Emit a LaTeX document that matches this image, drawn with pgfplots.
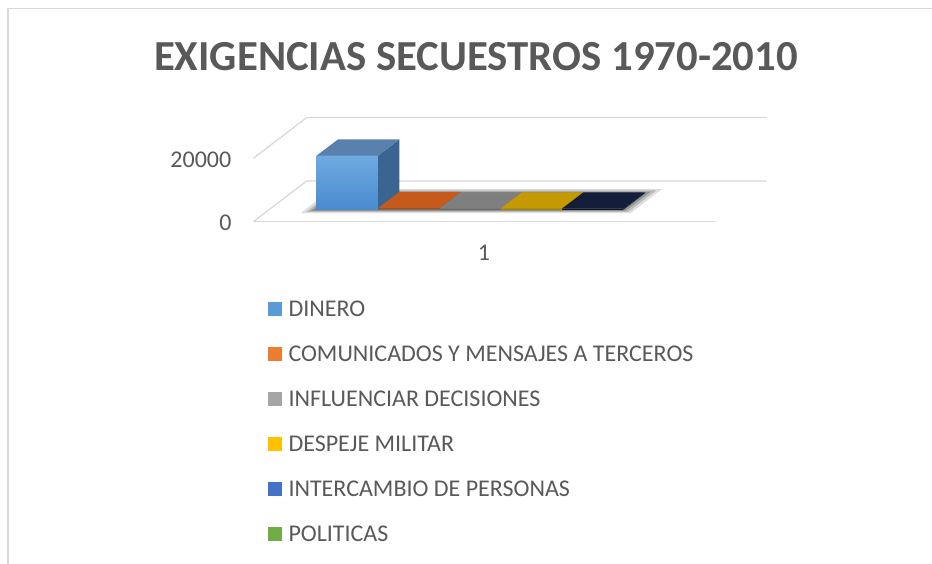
\documentclass[border=0pt]{standalone}
\usepackage{pgfplots}
\pgfplotsset{compat=1.18}
\usepackage{fontspec}
\setmainfont{Carlito}
\definecolor{txt}{HTML}{595959}
\definecolor{gridc}{HTML}{D9D9D9}
% series colours (legend)
\definecolor{cDin}{HTML}{5B9BD5}
\definecolor{cCom}{HTML}{ED7D31}
\definecolor{cInf}{HTML}{A5A5A5}
\definecolor{cDes}{HTML}{FFC000}
\definecolor{cInt}{HTML}{4472C4}
\definecolor{cPol}{HTML}{70AD47}
% shaded faces of the 3-D columns
\definecolor{dinTop}{HTML}{5A80AD}
\definecolor{dinSide}{HTML}{3B6591}
\definecolor{dinF1}{HTML}{6FAAE0}
\definecolor{dinF2}{HTML}{4A8BCF}
\definecolor{comTop}{HTML}{C55A1B}
\definecolor{comSide}{HTML}{A84A15}
\definecolor{infTop}{HTML}{7F7F7F}
\definecolor{infSide}{HTML}{6A6A6A}
\definecolor{desTop}{HTML}{C49A00}
\definecolor{desSide}{HTML}{A88400}
\definecolor{intTop}{HTML}{131F3A}
\definecolor{intSide}{HTML}{0E172C}

% cuboid: x0, x1, value, front style, top colour, side colour
\newcommand\cuboid[6]{%
  \addplot3[draw=none,#4] coordinates {(#1,0.30,0) (#2,0.30,0) (#2,0.30,#3) (#1,0.30,#3)} -- cycle;
  \addplot3[draw=none,fill=#6] coordinates {(#2,0.30,0) (#2,0.70,0) (#2,0.70,#3) (#2,0.30,#3)} -- cycle;
  \addplot3[draw=none,fill=#5] coordinates {(#1,0.30,#3) (#2,0.30,#3) (#2,0.70,#3) (#1,0.70,#3)} -- cycle;
}

\begin{document}
\begin{tikzpicture}[x=1pt,y=1pt]
\useasboundingbox (0,0) rectangle (932,563);
\draw[gridc, line width=1.5pt] (8,-10) -- (8,554.7) -- (945,554.7);

\node[txt, inner sep=0pt, font=\fontsize{42.8}{50}\selectfont\bfseries] at (476,506) {EXIGENCIAS SECUESTROS 1970-2010};

\begin{axis}[
  at={(253.3pt,341.3pt)}, anchor=origin,
  x={(1pt,0pt)}, y={(53.4pt,40.7pt)}, z={(0pt,0.00317pt)},
  xmin=0, xmax=461.7, ymin=0, ymax=1, zmin=0, zmax=20000,
  hide axis, clip=false,
]
% gridlines (walls and floor edge)
\addplot3[gridc, line width=1.3pt] coordinates {(0,0,0) (0,1,0) (460,1,0)};
\addplot3[gridc, line width=1.3pt] coordinates {(0,0,20000) (0,1,20000) (460,1,20000)};
\addplot3[gridc, line width=1.3pt] coordinates {(0,0,0) (461.7,0,0)};

% soft floor shadow under the columns
\addplot3[draw=none, fill=black, opacity=0.13] coordinates {(36,0.21,0) (366,0.21,0) (366,0.80,0) (36,0.80,0)} -- cycle;
\addplot3[draw=none, fill=black, opacity=0.16] coordinates {(40,0.24,0) (362,0.24,0) (362,0.77,0) (40,0.77,0)} -- cycle;
\addplot3[draw=none, fill=black, opacity=0.20] coordinates {(43,0.265,0) (358,0.265,0) (358,0.74,0) (43,0.74,0)} -- cycle;
\addplot3[draw=none, fill=black, opacity=0.26] coordinates {(46,0.285,0) (355,0.285,0) (355,0.715,0) (46,0.715,0)} -- cycle;

% columns: DINERO, COMUNICADOS, INFLUENCIAR, DESPEJE, INTERCAMBIO (POLITICAS = 0)
\cuboid{47.4}{108.7}{17000}{top color=dinF1, bottom color=dinF2}{dinTop}{dinSide}
\cuboid{108.7}{170.0}{400}{fill=comSide}{comTop}{comSide}
\cuboid{170.0}{231.3}{300}{fill=infSide}{infTop}{infSide}
\cuboid{231.3}{292.6}{300}{fill=desSide}{desTop}{desSide}
\cuboid{292.6}{353.9}{250}{fill=intSide}{intTop}{intSide}
\end{axis}

% axis labels
\begin{scope}[every node/.style={txt, inner sep=0pt, font=\fontsize{24}{29}\selectfont}]
\node[anchor=east] at (231.7,340.3) {0};
\node[anchor=east] at (231.5,403) {20000};
\node at (484,310) {1};
\end{scope}

% legend
\begin{scope}[every node/.style={txt, inner sep=0pt, anchor=base west, font=\fontsize{24}{29}\selectfont}]
\fill[cDin] (268.3,247.3) rectangle (281.7,260.7);
\node at (288.3,246.3) {DINERO};
\fill[cCom] (268.3,202.3) rectangle (281.7,215.7);
\node at (288.3,201.3) {COMUNICADOS Y MENSAJES A TERCEROS};
\fill[cInf] (268.3,157.3) rectangle (281.7,170.7);
\node at (288.3,156.3) {INFLUENCIAR DECISIONES};
\fill[cDes] (268.3,112.3) rectangle (281.7,125.7);
\node at (288.3,111.3) {DESPEJE MILITAR};
\fill[cInt] (268.3,67.3) rectangle (281.7,80.7);
\node at (288.3,66.3) {INTERCAMBIO DE PERSONAS};
\fill[cPol] (268.3,22.3) rectangle (281.7,35.7);
\node at (288.3,21.3) {POLITICAS};
\end{scope}
\end{tikzpicture}
\end{document}
